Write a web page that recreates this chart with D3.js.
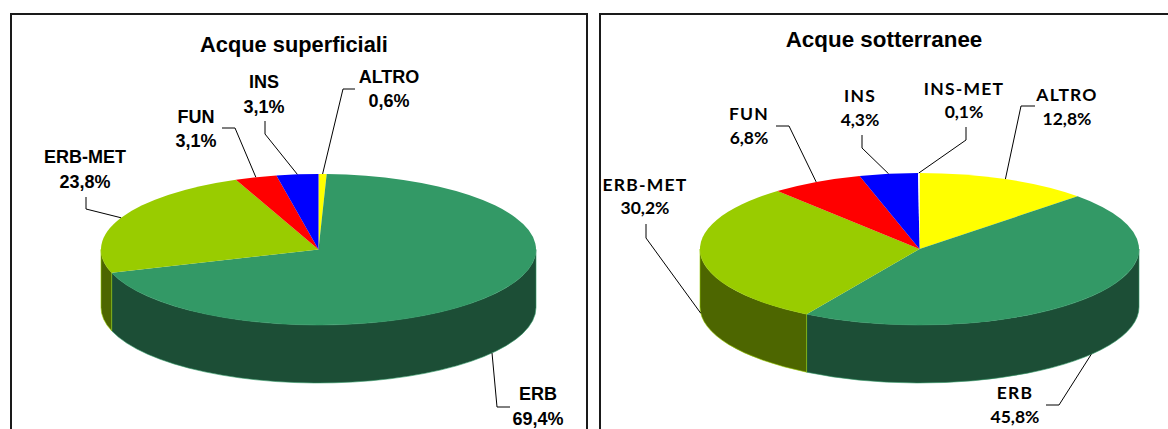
<!DOCTYPE html>
<html>
<head>
<meta charset="utf-8">
<title>Acque superficiali / Acque sotterranee</title>
<script src="https://cdn.jsdelivr.net/npm/d3@7"></script>
<style>
html, body { margin: 0; padding: 0; background: #fff; overflow: hidden; }
svg { display: block; }
.frame { fill: none; stroke: #1a1a1a; stroke-width: 2; }
.leader { fill: none; stroke: #000; stroke-width: 1; }
.title { font-family: "Liberation Sans", Arial, sans-serif; font-weight: bold; font-size: 21.8px; text-anchor: middle; }
.ground .title { font-size: 22.4px; }
.label { font-weight: bold; text-anchor: middle; }
.surface .label { font-family: "Liberation Sans", Arial, sans-serif; font-size: 18px; }
.ground .label { font-family: Lato, "Open Sans", sans-serif; font-size: 17.5px; }
.ground .label .name { letter-spacing: 1.2px; }
</style>
</head>
<body>
<svg id="chart" width="1168" height="429"></svg>
<script>
// values, in clockwise order from 12 o'clock
const surfaceNames = ["ALTRO", "ERB", "ERB-MET", "FUN", "INS"];
const surfaceValues = [0.6, 69.4, 23.8, 3.1, 3.1];
const groundNames = ["ALTRO", "ERB", "ERB-MET", "FUN", "INS", "INS-MET"];
const groundValues = [12.8, 45.8, 30.2, 6.8, 4.3, 0.1];

const topColors = { "ALTRO": "#ffff00", "ERB": "#339966", "ERB-MET": "#99cc00", "FUN": "#ff0000", "INS": "#0000ff", "INS-MET": "#ffffff" };
const sideColors = { "ALTRO": "#808000", "ERB": "#1c4e36", "ERB-MET": "#4d6600", "FUN": "#800000", "INS": "#000080", "INS-MET": "#808080" };

// layout: text centre, first and second baseline, then the elbow of the leader
const surfaceLayout = {
    "ALTRO":   { x: 389, y1: 83,  y2: 107, leader: [[355, 89], [343, 89]] },
    "ERB":     { x: 538, y1: 400, y2: 425, leader: [[510, 407], [497, 407]] },
    "ERB-MET": { x: 85,  y1: 163, y2: 188, leader: [[86, 197], [86, 209]] },
    "FUN":     { x: 196, y1: 123, y2: 147, leader: [[222, 128], [235, 128]] },
    "INS":     { x: 264, y1: 88,  y2: 113, leader: [[265, 121], [265, 134]] }
};
const groundLayout = {
    "ALTRO":   { x: 1067, y1: 101, y2: 125, leader: [[1035, 106], [1021, 106]] },
    "ERB":     { x: 1015, y1: 399, y2: 423, leader: [[1046, 405], [1059, 405]] },
    "ERB-MET": { x: 645,  y1: 191, y2: 214, leader: [[646, 224], [646, 238]] },
    "FUN":     { x: 749,  y1: 120, y2: 144, leader: [[776, 126], [789, 126]] },
    "INS":     { x: 860,  y1: 102, y2: 126, leader: [[862, 135], [862, 148]] },
    "INS-MET": { x: 964,  y1: 95,  y2: 118, leader: [[966, 127], [966, 140]] }
};

const charts = [
    { cls: "surface", title: "Acque superficiali", titleX: 294, titleY: 52, names: surfaceNames, values: surfaceValues, layout: surfaceLayout,
      cx: 318.5, cy: 249.5, rx: 217.5, ry: 75.5, depth: 58, frame: [11, 14, 576, 440] },
    { cls: "ground", title: "Acque sotterranee", titleX: 884, titleY: 47, names: groundNames, values: groundValues, layout: groundLayout,
      cx: 919.5, cy: 249, rx: 219.5, ry: 76, depth: 58, frame: [600, 14, 600, 440] }
];

const svg = d3.select("#chart");
const pct = d3.formatLocale({ decimal: ",", thousands: ".", grouping: [3], currency: ["", ""] }).format(".1f");

function drawChart(c) {
    const g = svg.append("g").attr("class", c.cls);

    g.append("rect").attr("class", "frame")
	.attr("x", c.frame[0]).attr("y", c.frame[1])
	.attr("width", c.frame[2]).attr("height", c.frame[3]);

    g.append("text").attr("class", "title")
	.attr("x", c.titleX).attr("y", c.titleY).text(c.title);

    const pie = d3.pie().sort(null).value(d => d.value);
    const slices = pie(c.names.map((n, i) => ({ name: n, value: c.values[i] })));

    // tilted disc: pie angle -> ellipse point
    const px = d3.scaleLinear().domain([-1, 1]).range([c.cx - c.rx, c.cx + c.rx]);
    const py = d3.scaleLinear().domain([-1, 1]).range([c.cy + c.ry, c.cy - c.ry]);
    const pt = (a, dy) => [px(Math.sin(a)), py(Math.cos(a)) + (dy || 0)];

    function topPath(d) {
	const p0 = pt(d.startAngle), p1 = pt(d.endAngle);
	const large = d.endAngle - d.startAngle > Math.PI ? 1 : 0;
	return `M${c.cx},${c.cy}L${p0}A${c.rx},${c.ry} 0 ${large} 1 ${p1}Z`;
    }

    // only the front half of the wall shows
    function sidePath(d) {
	const a0 = Math.max(d.startAngle, Math.PI / 2);
	const a1 = Math.min(d.endAngle, 3 * Math.PI / 2);
	if (a1 <= a0) return null;
	const p0 = pt(a0), p1 = pt(a1), q0 = pt(a0, c.depth), q1 = pt(a1, c.depth);
	return `M${p0}A${c.rx},${c.ry} 0 0 1 ${p1}L${q1}A${c.rx},${c.ry} 0 0 0 ${q0}Z`;
    }

    g.append("g").selectAll("path")
	.data(slices.filter(d => sidePath(d) != null))
	.join("path")
	.attr("d", sidePath)
	.attr("fill", d => sideColors[d.data.name])
	.attr("stroke", d => topColors[d.data.name])
	.attr("stroke-width", 0.6);

    g.append("g").selectAll("path")
	.data(slices)
	.join("path")
	.attr("d", topPath)
	.attr("fill", d => topColors[d.data.name]);

    // leaders start from the middle of each slice, on the wall if it is in front
    g.append("g").selectAll("path")
	.data(slices)
	.join("path")
	.attr("class", "leader")
	.attr("d", d => {
	    const mid = (d.startAngle + d.endAngle) / 2;
	    const front = mid > Math.PI / 2 && mid < 3 * Math.PI / 2;
	    const pts = c.layout[d.data.name].leader.concat([pt(mid, front ? c.depth : 0)]);
	    return d3.line()(pts);
	});

    const labels = g.append("g").selectAll("text")
	.data(slices)
	.join("text")
	.attr("class", "label")
	.attr("x", d => c.layout[d.data.name].x);

    labels.append("tspan")
	.attr("class", "name")
	.attr("x", d => c.layout[d.data.name].x)
	.attr("y", d => c.layout[d.data.name].y1)
	.text(d => d.data.name);

    labels.append("tspan")
	.attr("x", d => c.layout[d.data.name].x)
	.attr("y", d => c.layout[d.data.name].y2)
	.text(d => pct(d.data.value) + "%");
}

charts.forEach(drawChart);
</script>
</body>
</html>
